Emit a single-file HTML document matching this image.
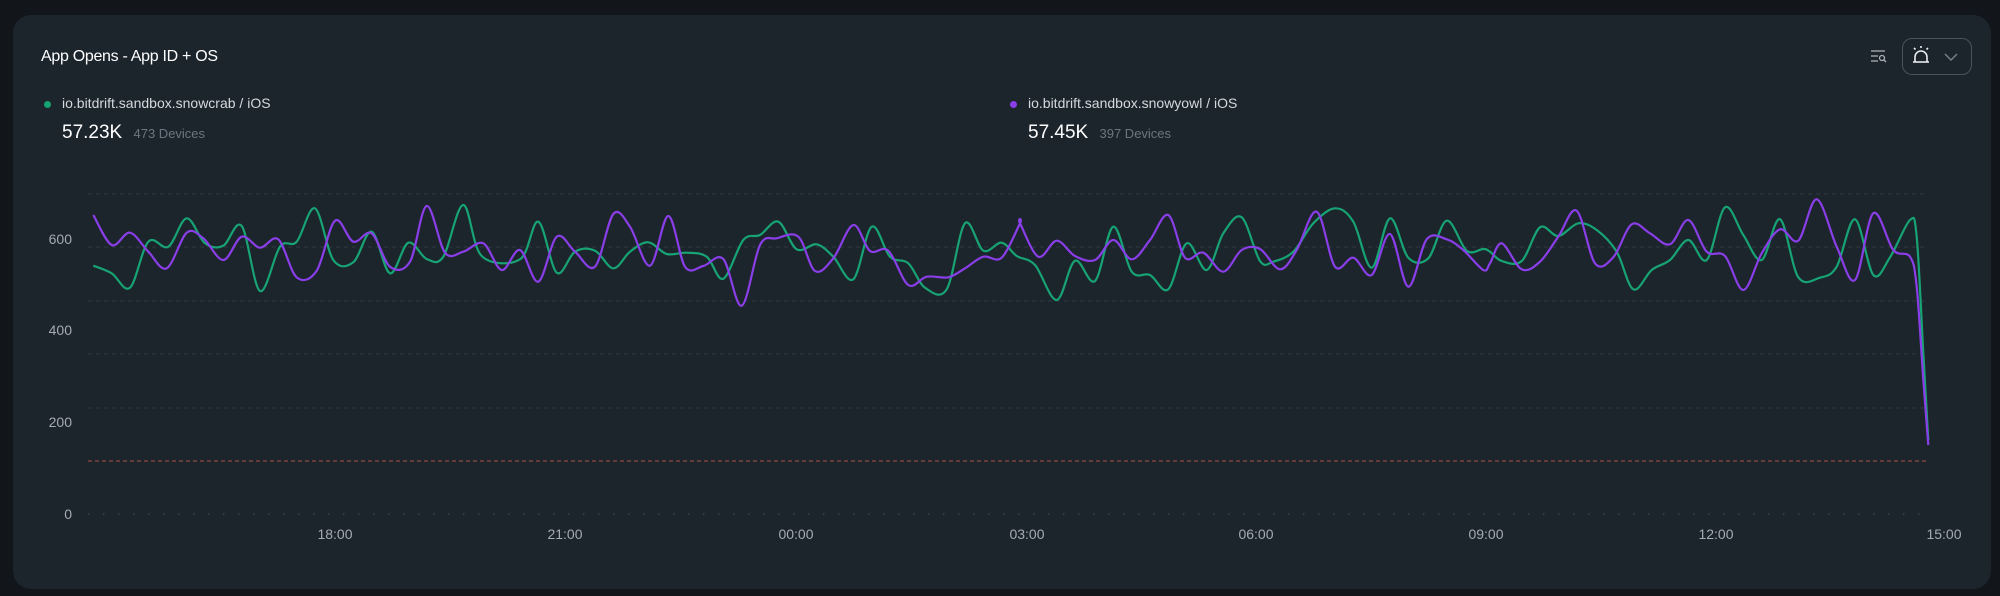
<!DOCTYPE html>
<html><head><meta charset="utf-8"><style>
html,body{margin:0;padding:0;background:#12161b;width:2000px;height:596px;overflow:hidden;font-family:"Liberation Sans",sans-serif}
.card{position:absolute;left:13px;top:15px;width:1978px;height:574px;background:#1c242c;border-radius:18px}
.t{position:absolute;color:#fff}
</style></head><body>
<div class="card"></div>
<div class="t" style="left:41px;top:48px;font-size:16px;letter-spacing:-0.3px">App Opens - App ID + OS</div>
<div style="position:absolute;left:44px;top:101px;width:7px;height:7px;border-radius:50%;background:#16a373"></div>
<div class="t" style="left:62px;top:95px;font-size:14px;color:#d5d9de">io.bitdrift.sandbox.snowcrab / iOS</div>
<div class="t" style="left:62px;top:122px;font-size:19px">57.23K <span style="font-size:13px;color:#6d7680;margin-left:6px">473 Devices</span></div>
<div style="position:absolute;left:1010px;top:101px;width:7px;height:7px;border-radius:50%;background:#8a3ee8"></div>
<div class="t" style="left:1028px;top:95px;font-size:14px;color:#d5d9de">io.bitdrift.sandbox.snowyowl / iOS</div>
<div class="t" style="left:1028px;top:122px;font-size:19px">57.45K <span style="font-size:13px;color:#6d7680;margin-left:6px">397 Devices</span></div>
<div style="position:absolute;left:1902px;top:38px;width:68px;height:35px;border:1px solid #4a535c;border-radius:10px"></div>
<svg width="2000" height="596" style="position:absolute;left:0;top:0">
<g stroke="#aab1b8" stroke-width="1.3" fill="none">
<line x1="1871" y1="51" x2="1885" y2="51"/><line x1="1871" y1="56" x2="1878" y2="56"/><line x1="1871" y1="61" x2="1878" y2="61"/>
<circle cx="1882" cy="58" r="2.5"/><line x1="1884" y1="60" x2="1886" y2="62"/>
</g>
<g stroke="#e8ebee" stroke-width="1.6" fill="none">
<path d="M1915 62 v-5 a6 6 0 0 1 12 0 v5"/><line x1="1913" y1="62" x2="1929" y2="62"/>
<line x1="1921" y1="46" x2="1921" y2="48"/><line x1="1914" y1="48" x2="1915.5" y2="49.5"/><line x1="1928" y1="48" x2="1926.5" y2="49.5"/>
</g>
<path d="M1945 54 l6 6 l6 -6" stroke="#7a838c" stroke-width="1.4" fill="none"/>
<g stroke="#2f3841" stroke-width="1" stroke-dasharray="4 4">
<line x1="88" y1="194" x2="1927" y2="194"/><line x1="88" y1="247" x2="1927" y2="247"/>
<line x1="88" y1="301" x2="1927" y2="301"/><line x1="88" y1="354" x2="1927" y2="354"/>
<line x1="88" y1="408" x2="1927" y2="408"/>
</g>
<line x1="88" y1="461" x2="1927" y2="461" stroke="#8a4a40" stroke-width="1.2" stroke-dasharray="4 3"/>
<line x1="88" y1="514" x2="1927" y2="514" stroke="#3a434c" stroke-width="1.5" stroke-dasharray="1.5 13.5"/>
<g fill="#a4abb2" font-size="14" font-family="Liberation Sans,sans-serif" text-anchor="end">
<text x="72" y="244">600</text><text x="72" y="335">400</text><text x="72" y="427">200</text><text x="72" y="519">0</text>
</g>
<g fill="#a4abb2" font-size="14" font-family="Liberation Sans,sans-serif" text-anchor="middle">
<text x="335" y="539">18:00</text><text x="565" y="539">21:00</text><text x="796" y="539">00:00</text><text x="1027" y="539">03:00</text><text x="1256" y="539">06:00</text><text x="1486" y="539">09:00</text><text x="1716" y="539">12:00</text><text x="1944" y="539">15:00</text>
</g>
<path id="g" stroke="#17a374" stroke-width="2.2" fill="none" stroke-linejoin="round"/>
<path id="p" stroke="#8a3ee8" stroke-width="2.2" fill="none" stroke-linejoin="round"/>
</svg>
<script>
var G=[[80,[[40,257],[95,280],[150,323],[205,185],[265,200],[320,115],[375,190],[430,197],[485,138],[540,333],[600,200],[650,185],[705,85],[760,240],[820,247],[875,155],[930,280],[985,188],[1040,237],[1090,230],[1150,75],[1205,228],[1320,238],[1375,125]]],
[550,[[20,278],[75,215],[135,212],[190,265],[240,215],[295,187],[350,222],[410,218],[470,230],[520,296],[580,180],[630,165],[685,125],[740,208],[800,193],[850,230],[910,298],[965,140],[1020,230],[1075,250],[1125,323],[1190,328],[1245,130],[1300,212],[1355,188],[1400,228]]],
[1020,[[45,255],[110,360],[165,242],[225,303],[280,140],[335,275],[390,285],[445,328],[500,190],[560,270],[610,160],[665,112],[720,243],[760,245],[820,215],[880,130],[945,85],[1000,125],[1055,263],[1110,115],[1165,233],[1225,235],[1280,122],[1340,212],[1390,207]]],
[1490,[[0,215],[35,243],[95,243],[150,142],[205,168],[265,130],[320,150],[380,215],[430,328],[485,270],[540,240],[595,180],[650,240],[705,82],[760,165],[815,240],[870,118],[925,292],[990,293],[1040,260],[1095,118],[1150,285],[1200,232],[1260,120],[1280,170],[1300,520],[1315,780]]]];
var P=[[80,[[40,105],[95,195],[150,158],[205,215],[260,265],[320,158],[370,175],[430,240],[485,170],[540,203],[595,178],[650,292],[710,272],[765,122],[820,185],[875,160],[930,260],[990,245],[1040,78],[1095,218],[1150,215],[1210,190],[1265,270],[1320,210],[1375,305]]],
[550,[[20,170],[75,215],[135,260],[190,102],[240,140],[300,257],[355,108],[405,260],[460,258],[520,237],[575,377],[630,195],[680,175],[745,170],[795,273],[850,235],[910,135],[960,213],[1015,212],[1075,315],[1130,290],[1195,292],[1245,265],[1300,230],[1355,233],[1410,130]]],
[1020,[[0,130],[55,230],[110,182],[165,228],[225,240],[280,180],[335,238],[390,180],[445,105],[495,233],[550,218],[610,275],[665,210],[720,207],[780,268],[830,210],[890,95],[945,260],[1000,233],[1055,285],[1110,162],[1165,320],[1220,178],[1280,178],[1330,210],[1390,270]]],
[1490,[[0,250],[35,190],[95,268],[150,245],[205,170],[260,92],[315,250],[370,232],[425,133],[480,160],[540,193],[595,120],[650,215],[705,228],[760,330],[815,220],[870,148],[925,182],[980,58],[1040,200],[1095,300],[1150,100],[1210,210],[1260,230],[1280,320],[1300,600],[1315,795]]]];
function build(S){var pts=[];S.forEach(function(s){s[1].forEach(function(q){pts.push([s[0]+q[0]/3,180+q[1]/3]);});});
var d="M"+pts[0][0].toFixed(1)+" "+pts[0][1].toFixed(1);
for(var i=0;i<pts.length-1;i++){var p0=pts[Math.max(0,i-1)],p1=pts[i],p2=pts[i+1],p3=pts[Math.min(pts.length-1,i+2)];
var c1=[p1[0]+(p2[0]-p0[0])/6,p1[1]+(p2[1]-p0[1])/6],c2=[p2[0]-(p3[0]-p1[0])/6,p2[1]-(p3[1]-p1[1])/6];
d+=" C"+c1[0].toFixed(1)+" "+c1[1].toFixed(1)+" "+c2[0].toFixed(1)+" "+c2[1].toFixed(1)+" "+p2[0].toFixed(1)+" "+p2[1].toFixed(1);}
return d;}
document.getElementById("g").setAttribute("d",build(G));
document.getElementById("p").setAttribute("d",build(P));
</script>
</body></html>
